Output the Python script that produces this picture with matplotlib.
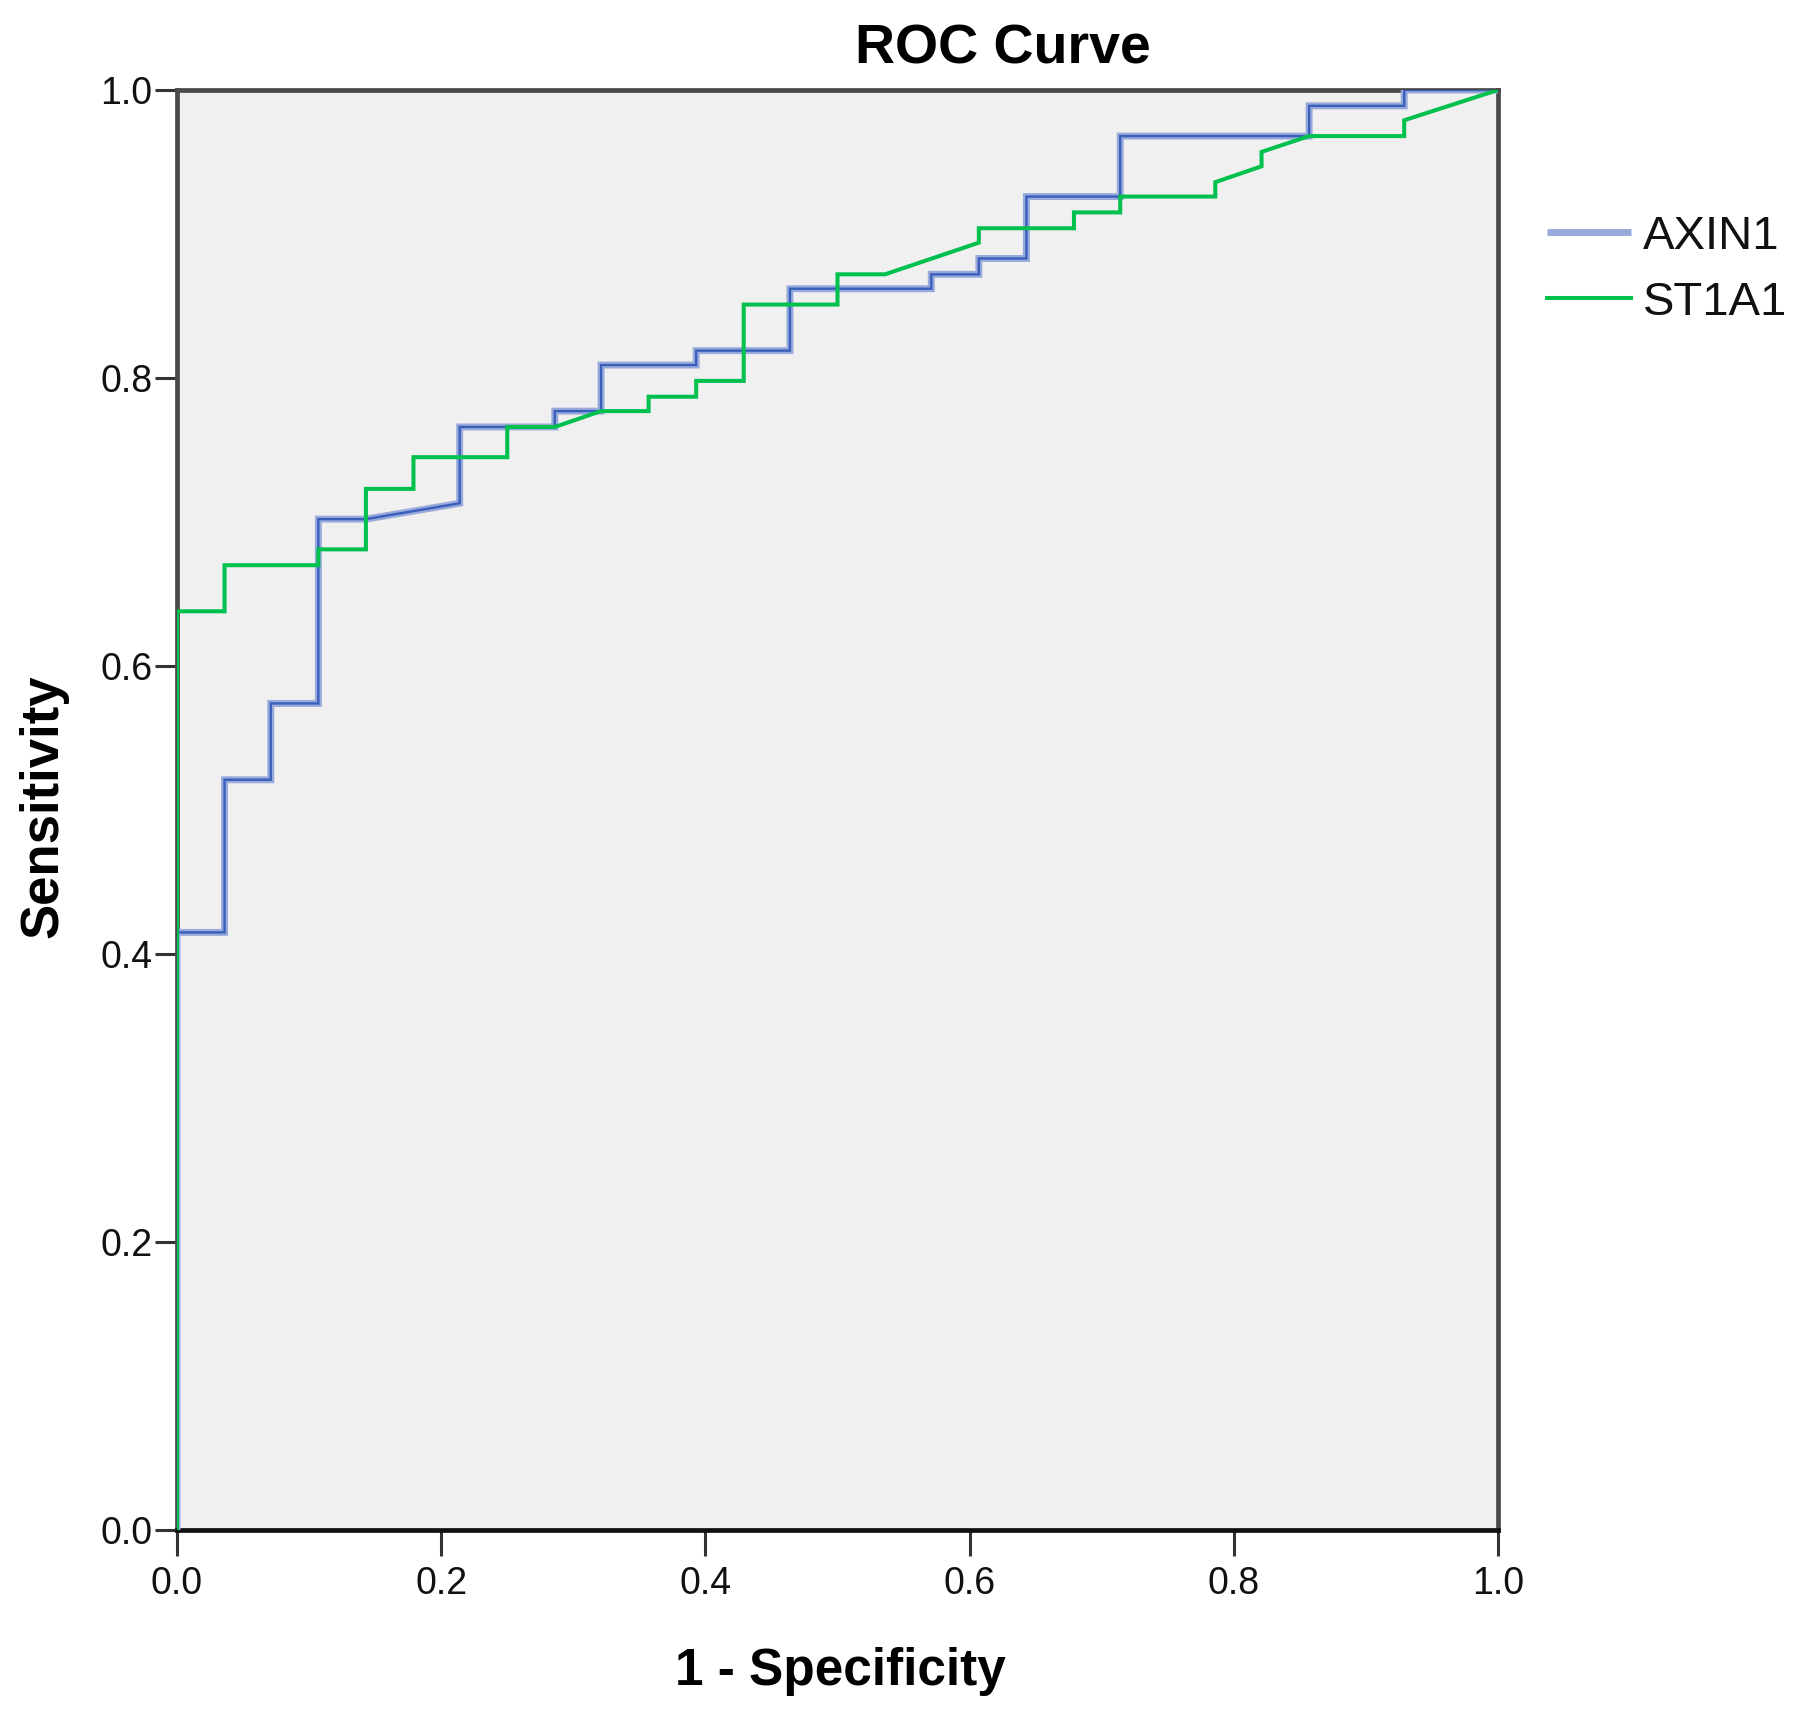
import matplotlib
matplotlib.use("Agg")
import matplotlib.pyplot as plt
from matplotlib import font_manager

# ---- data ----
axin1_fpr = [0, 0, 0.036, 0.036, 0.071, 0.071, 0.107, 0.107, 0.143, 0.214, 0.214,
             0.286, 0.286, 0.321, 0.321, 0.393, 0.393, 0.464, 0.464, 0.571, 0.571,
             0.607, 0.607, 0.643, 0.643, 0.714, 0.714, 0.857, 0.857, 0.929, 0.929, 1.0]
axin1_tpr = [0, 0.415, 0.415, 0.521, 0.521, 0.574, 0.574, 0.702, 0.702, 0.713, 0.766,
             0.766, 0.777, 0.777, 0.809, 0.809, 0.819, 0.819, 0.862, 0.862, 0.872,
             0.872, 0.883, 0.883, 0.926, 0.926, 0.968, 0.968, 0.989, 0.989, 1.0, 1.0]

st1a1_fpr = [0, 0, 0.036, 0.036, 0.107, 0.107, 0.143, 0.143, 0.179, 0.179, 0.25, 0.25,
             0.286, 0.321, 0.357, 0.357, 0.393, 0.393, 0.429, 0.429, 0.5, 0.5, 0.536,
             0.607, 0.607, 0.679, 0.679, 0.714, 0.714, 0.786, 0.786, 0.821, 0.821,
             0.857, 0.929, 0.929, 1.0]
st1a1_tpr = [0, 0.638, 0.638, 0.670, 0.670, 0.681, 0.681, 0.723, 0.723, 0.745, 0.745,
             0.766, 0.766, 0.777, 0.777, 0.787, 0.787, 0.798, 0.798, 0.851, 0.851,
             0.872, 0.872, 0.894, 0.904, 0.904, 0.915, 0.915, 0.926, 0.926, 0.936,
             0.947, 0.957, 0.968, 0.968, 0.979, 1.0]

series_names = ["AXIN1", "ST1A1"]
tick_values = [0.0, 0.2, 0.4, 0.6, 0.8, 1.0]
tick_labels = ["0.0", "0.2", "0.4", "0.6", "0.8", "1.0"]
title_text = "ROC Curve"
x_label = "1 - Specificity"
y_label = "Sensitivity"

# ---- fonts ----
names = {f.name for f in font_manager.fontManager.ttflist}
if "Liberation Sans Narrow" in names:
    narrow = "Liberation Sans Narrow"
    tick_fs, leg_fs = 31, 40
else:
    narrow = "Liberation Sans"
    tick_fs, leg_fs = 27, 34
bold_family = "Liberation Sans" if "Liberation Sans" in names else "DejaVu Sans"

W, H = 1811, 1719
fig = plt.figure(figsize=(W / 100, H / 100), dpi=100)
fig.patch.set_facecolor("white")

ax_l, ax_r, ax_t, ax_b = 177, 1498, 90, 1530
ax = fig.add_axes([ax_l / W, 1 - ax_b / H, (ax_r - ax_l) / W, (ax_b - ax_t) / H])
ax.set_facecolor("#f0f0f0")

# curves
ax.plot(axin1_fpr, axin1_tpr, color="#97aadb", lw=5.0, solid_capstyle="butt",
        solid_joinstyle="miter", zorder=3, label=series_names[0])
ax.plot(axin1_fpr, axin1_tpr, color="#3a5fbb", lw=1.7, solid_joinstyle="miter", zorder=3.1)
ax.plot(st1a1_fpr, st1a1_tpr, color="#00c04e", lw=2.9, solid_joinstyle="miter",
        zorder=3.2, label=series_names[1])

ax.set_xlim(0, 1)
ax.set_ylim(0, 1)
ax.set_xticks(tick_values)
ax.set_xticklabels(tick_labels)
ax.set_yticks(tick_values)
ax.set_yticklabels(tick_labels)

for lab in ax.get_xticklabels() + ax.get_yticklabels():
    lab.set_fontfamily(narrow)
    lab.set_fontsize(tick_fs)
    lab.set_color("#111111")

ax.tick_params(axis="x", length=19, width=2.2, color="#333333", pad=7, direction="out")
ax.tick_params(axis="y", length=16, width=2.2, color="#333333", pad=1.5, direction="out")

for side, sp in ax.spines.items():
    sp.set_linewidth(3.4)
    sp.set_color("#4a4a4a")
    sp.set_zorder(2.5)
ax.spines["bottom"].set_color("#111111")

# texts
fig.text(1003 / W, 1 - 63 / H, title_text, ha="center", va="baseline",
         fontsize=40, fontweight="bold", family=bold_family, color="black")
fig.text(840 / W, 1 - 1685 / H, x_label, ha="center", va="baseline",
         fontsize=37, fontweight="bold", family=bold_family, color="black")
fig.text(43 / W, 1 - 806 / H, y_label, ha="center", va="center", rotation=90,
         fontsize=38, fontweight="bold", family=bold_family, color="black")

# legend
handles, labels = ax.get_legend_handles_labels()
leg_px = leg_fs * 100 / 72
leg = fig.legend(handles, labels, loc="upper left",
                 bbox_to_anchor=(1547 / W, 1 - 215 / H),
                 frameon=False, prop={"family": narrow, "size": leg_fs},
                 handlelength=84 / leg_px, handletextpad=12 / leg_px,
                 labelspacing=0.46, borderpad=0, borderaxespad=0)
for t in leg.get_texts():
    t.set_color("#111111")

fig.savefig("out.png", dpi=100, facecolor="white")
